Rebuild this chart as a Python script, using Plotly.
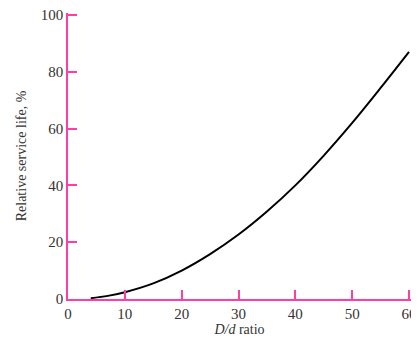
import plotly.graph_objects as go

ratio = [4, 7, 10, 15, 20, 25, 30, 35, 40, 45, 50, 55, 60]
life = [0.3, 1.1, 2.4, 5.5, 10, 15.8, 22.7, 30.8, 40, 50.5, 62, 74.3, 87]

x_ticks = [0, 10, 20, 30, 40, 50, 60]
y_ticks = [0, 20, 40, 60, 80, 100]

pink = "#ff3ea5"
font = dict(family="Liberation Serif", size=15, color="#333333")
title_font = dict(family="Liberation Serif", size=14, color="#333333")

fig = go.Figure(go.Scatter(x=ratio, y=life, mode="lines",
                           line=dict(color="black", width=2, shape="spline"),
                           hoverinfo="skip", cliponaxis=False))
fig.update_layout(
    width=411, height=337,
    margin=dict(l=60, r=8, t=5, b=46),
    paper_bgcolor="white", plot_bgcolor="white",
    showlegend=False, font=font,
)
fig.update_xaxes(range=[0, 60.35], tickvals=x_ticks, ticks="inside", ticklen=9,
                 tickcolor=pink, tickwidth=1.5, showline=True, linecolor=pink,
                 linewidth=1.5, showgrid=False, zeroline=False, automargin=False,
                 ticklabeloverflow="allow",
                 title=dict(text="<i>D/d</i> ratio", standoff=2, font=title_font))
fig.update_yaxes(range=[0, 100.7], tickvals=y_ticks, ticks="inside", ticklen=9,
                 tickcolor=pink, tickwidth=1.5, showline=True, linecolor=pink,
                 linewidth=1.5, showgrid=False, zeroline=False, automargin=False,
                 ticklabeloverflow="allow",
                 title=dict(text="Relative service life, %", standoff=11, font=title_font))
fig.write_html("out.html")
